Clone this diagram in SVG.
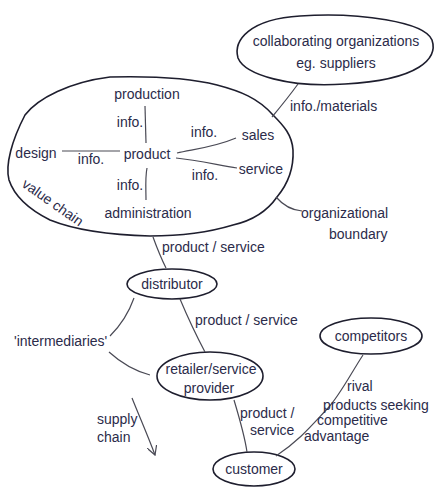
<svg xmlns="http://www.w3.org/2000/svg" width="440" height="493" viewBox="0 0 440 493">
<style>
text{font-family:"Liberation Sans",Arial,sans-serif;font-size:14px;fill:#2b2b4a}
.m{text-anchor:middle}
.o{fill:none;stroke:#1e1e2e;stroke-width:1.6}
.c{fill:none;stroke:#4a4a55;stroke-width:1.2}
</style>
<defs>
<marker id="ah" viewBox="0 0 10 10" refX="9" refY="5" markerWidth="10" markerHeight="10" orient="auto" markerUnits="userSpaceOnUse">
<path d="M0,0 L9,5 L0,10" fill="none" stroke="#4a4a55" stroke-width="1.2"/>
</marker>
</defs>
<rect width="440" height="493" fill="#fff"/>
<g id="value-chain">
<path class="o" d="M110,77 C150,76 190,78 217,85 C240,91 258,98 273,115 C284,126 292,135 293,150 C294,170 287,185 277,197 C268,210 255,220 233,225 C210,232 185,236 150,236 C110,235 75,230 50,220 C30,210 15,198 9,180 C5,165 12,140 25,115 C38,98 70,82 110,77 Z"/>
<text x="147" y="99" class="m">production</text>
<text x="130" y="127" class="m">info.</text>
<text x="36" y="158" class="m">design</text>
<text x="91" y="164" class="m">info.</text>
<text x="147" y="159" class="m">product</text>
<text x="204" y="137" class="m">info.</text>
<text x="258" y="140" class="m">sales</text>
<text x="261" y="174" class="m">service</text>
<text x="205" y="180" class="m">info.</text>
<text x="130" y="190" class="m">info.</text>
<text x="148" y="218" class="m">administration</text>
<text x="21" y="186" transform="rotate(35 21 186)">value chain</text>
<path class="c" d="M145,106 L146,143"/>
<path class="c" d="M62,151 L120,151"/>
<path class="c" d="M177,153 C195,149 215,147 236,138"/>
<path class="c" d="M176,158 C197,160 218,165 237,168"/>
<path class="c" d="M147,168 C145,178 146,190 146,200"/>
</g>
<g id="collaborating">
<path class="o" d="M300,16 C360,12 425,22 432,40 C438,58 420,80 345,84 C290,88 245,75 238,58 C233,40 250,19 300,16 Z"/>
<text x="336" y="46" class="m">collaborating organizations</text>
<text x="336" y="68" class="m">eg. suppliers</text>
</g>
<g id="distributor">
<ellipse class="o" cx="172" cy="284" rx="45" ry="15"/>
<text x="172" y="289" class="m">distributor</text>
</g>
<g id="retailer">
<ellipse class="o" cx="210" cy="376" rx="53" ry="24"/>
<text x="211" y="374" class="m">retailer/service</text>
<text x="209" y="393" class="m">provider</text>
</g>
<g id="customer">
<ellipse class="o" cx="254" cy="469" rx="41" ry="17"/>
<text x="254" y="474" class="m">customer</text>
</g>
<g id="competitors">
<ellipse class="o" cx="371" cy="336" rx="51" ry="18"/>
<text x="371" y="341" class="m">competitors</text>
</g>
<g id="connectors">
<path class="c" d="M298,84 C290,95 282,105 272,117"/>
<path class="c" d="M276,197 C282,204 290,210 302,211"/>
<path class="c" d="M153,237 C157,248 161,258 166,268"/>
<path class="c" d="M180,299 C188,318 196,335 205,352"/>
<path class="c" d="M134,298 C128,315 118,328 110,336"/>
<path class="c" d="M109,352 C120,362 135,371 150,375"/>
<path class="c" d="M132,398 C140,418 148,436 155,455" marker-end="url(#ah)"/>
<path class="c" d="M234,400 C240,420 245,438 247,452"/>
<path class="c" d="M363,355 C350,375 340,395 328,408 C312,425 300,440 276,456"/>
</g>
<g id="labels">
<text x="290" y="111">info./materials</text>
<text x="301" y="218">organizational</text>
<text x="329" y="239">boundary</text>
<text x="162" y="252">product / service</text>
<text x="195" y="325">product / service</text>
<text x="14" y="346">'intermediaries'</text>
<text x="97" y="424">supply</text>
<text x="97" y="442">chain</text>
<text x="240" y="418">product /</text>
<text x="250" y="435">service</text>
<text x="347" y="391">rival</text>
<text x="323" y="410">products seeking</text>
<text x="317" y="425">competitive</text>
<text x="304" y="441">advantage</text>
</g>
</svg>
